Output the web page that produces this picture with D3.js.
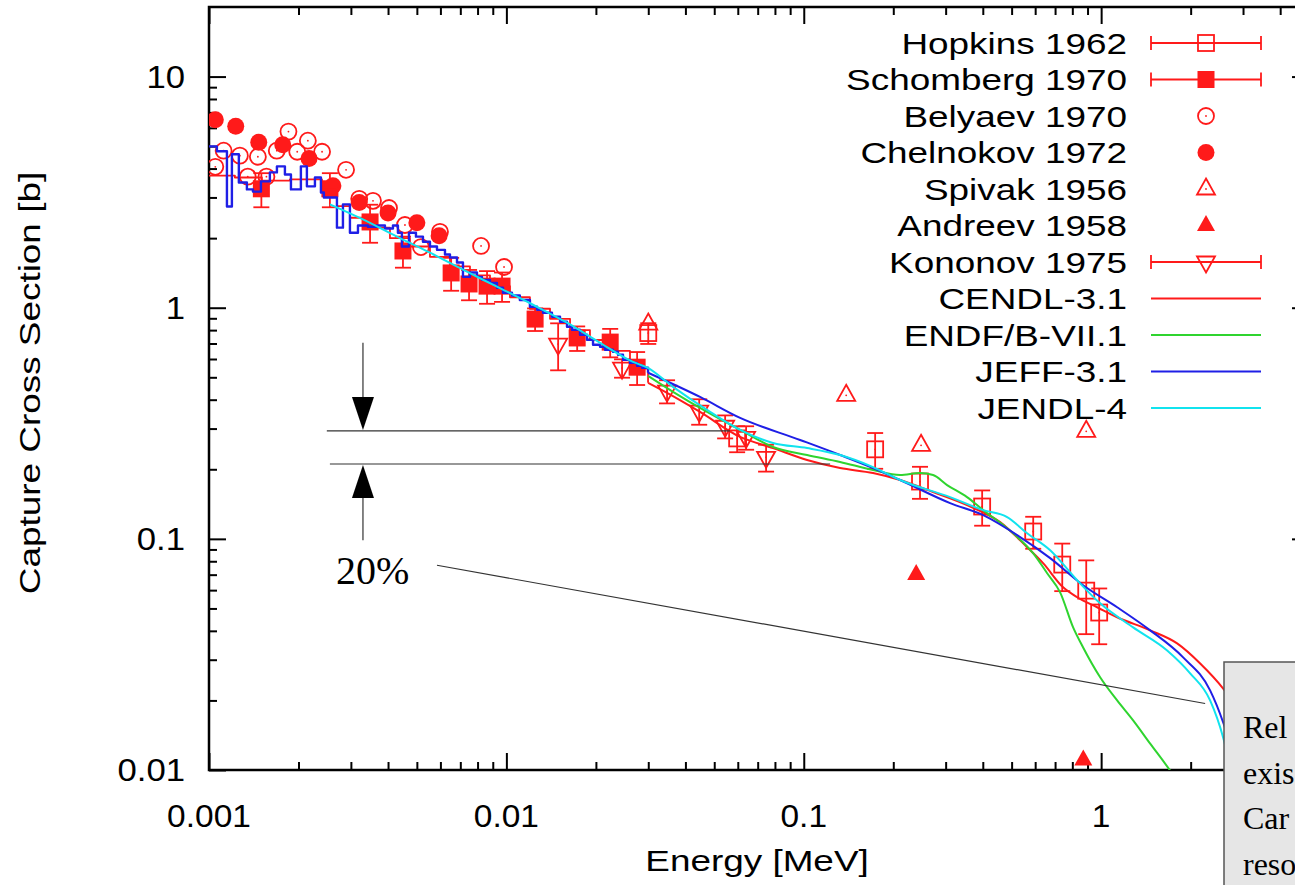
<!DOCTYPE html>
<html>
<head>
<meta charset="utf-8">
<script src="https://cdn.jsdelivr.net/npm/d3@7"></script>
<style>
  body { margin: 0; background: #fff; overflow: hidden; }
  svg { display: block; }
</style>
</head>
<body>
<svg id="chart" width="1295" height="885"></svg>
<script>
// ---- Measurements: energy [MeV], capture cross section [b], error [b] ----
const hopkinsE   = [0.0300, 0.0597, 0.1738, 0.246, 0.398, 0.591, 0.740, 0.891, 0.985];
const hopkinsS   = [0.777, 0.272, 0.244, 0.177, 0.138, 0.1076, 0.0774, 0.0597, 0.048];
const hopkinsErr = [0.08, 0.035, 0.043, 0.028, 0.024, 0.017, 0.018, 0.021, 0.013];

const schombergE   = [0.00150, 0.00255, 0.00348, 0.00449, 0.00652, 0.00749, 0.00861, 0.00967, 0.01249, 0.0173, 0.02234, 0.02752];
const schombergS   = [3.27, 3.27, 2.35, 1.76, 1.414, 1.267, 1.24, 1.24, 0.893, 0.74, 0.71, 0.553];
const schombergErr = [0.55, 0.55, 0.44, 0.27, 0.23, 0.19, 0.20, 0.18, 0.10, 0.09, 0.10, 0.09];

const belyaevE = [0.00105, 0.00112, 0.00127, 0.00146, 0.00135, 0.00156, 0.00169, 0.00185, 0.00198, 0.00215,
                  0.0024, 0.00289, 0.0032, 0.00356, 0.00403, 0.00456, 0.00516, 0.00598, 0.00822, 0.00982];
const belyaevS = [4.07, 4.78, 4.55, 4.5, 3.69, 3.69, 4.78, 5.78, 4.73, 5.28,
                  4.73, 3.95, 2.96, 2.90, 2.70, 2.28, 1.83, 2.13, 1.85, 1.50];

const chelnokovE = [0.00105, 0.00123, 0.00147, 0.00177, 0.00217, 0.00261, 0.0032, 0.0040, 0.0050, 0.00594];
const chelnokovS = [6.5, 6.1, 5.2, 5.07, 4.42, 3.37, 2.85, 2.57, 2.33, 2.05];

const spivakE = [0.0300, 0.1389, 0.248, 0.891];
const spivakS = [0.85, 0.418, 0.254, 0.292];

const andreevE = [0.2388, 0.871];
const andreevS = [0.0701, 0.01106];

const kononovE   = [0.01493, 0.02449, 0.0347, 0.0445, 0.0544, 0.064, 0.0747];
const kononovS   = [0.696, 0.548, 0.4355, 0.3567, 0.307, 0.275, 0.2254];
const kononovErr = [0.16, 0.05, 0.05, 0.045, 0.035, 0.032, 0.03];

// ---- Evaluations ----
// CENDL-3.1: group-wise part, then pointwise part
const cendlStepE = [0.001, 0.001222, 0.001506, 0.001871, 0.002398, 0.002693, 0.002978, 0.003423, 0.00406, 0.004739,
                    0.005534, 0.006461, 0.007543, 0.008809, 0.01028, 0.012, 0.01402, 0.01637, 0.0191, 0.02231,
                    0.02604, 0.02814, 0.02995];
const cendlStepS = [3.73, 3.66, 3.55, 3.59, 3.30, 2.75, 2.45, 2.22, 2.00, 1.84,
                    1.66, 1.51, 1.38, 1.24, 1.11, 0.99, 0.895, 0.80, 0.725, 0.65,
                    0.575, 0.545, 0.473];
const cendlE = [0.02995, 0.0347, 0.04479, 0.0611, 0.0788, 0.1026, 0.1325, 0.171, 0.2109, 0.2722, 0.354,
                0.4574, 0.5638, 0.6379, 0.7451, 0.8306, 0.9694, 1.132, 1.462, 1.801, 2.153, 2.573, 3.05];
const cendlS = [0.473, 0.428, 0.354, 0.276, 0.247, 0.2194, 0.2025, 0.1927, 0.1797, 0.1594, 0.14,
                0.1181, 0.092, 0.0785, 0.0617, 0.0559, 0.0506, 0.0458, 0.0402, 0.0353, 0.0289, 0.0225, 0.0164];

// ENDF/B-VII.1
const endfE = [0.02995, 0.03634, 0.0473, 0.0611, 0.0788, 0.1026, 0.1325, 0.171, 0.2109, 0.2461, 0.2722, 0.3034,
               0.354, 0.4011, 0.4829, 0.5904, 0.6584, 0.728, 0.805, 0.8698, 0.9923, 1.132, 1.281, 1.462, 1.706, 1.844];
const endfS = [0.507, 0.4325, 0.354, 0.296, 0.2497, 0.2306, 0.215, 0.1986, 0.1888, 0.1927, 0.1888, 0.1709,
               0.1516, 0.1331, 0.1112, 0.0867, 0.071, 0.0587, 0.0414, 0.0339, 0.0252, 0.020, 0.0164, 0.013, 0.00994, 0.00856];

// JEFF-3.1: group-wise part, then pointwise part
const jeffStepE = [0.001, 0.001063, 0.001149, 0.001194, 0.00126, 0.001341, 0.001405, 0.001495, 0.001602, 0.001692,
                   0.0018, 0.001886, 0.002037, 0.002134, 0.002271, 0.002379, 0.002434, 0.002693, 0.002821, 0.002978,
                   0.003169, 0.003423, 0.003671, 0.003905, 0.004155, 0.004318, 0.004453, 0.004703, 0.004965, 0.005242,
                   0.005534, 0.005843, 0.006216, 0.006461, 0.006822, 0.007145, 0.007543, 0.007963, 0.008277, 0.008809,
                   0.009299, 0.009741, 0.01044, 0.0111, 0.012, 0.01268, 0.01328, 0.01423, 0.01515, 0.01599,
                   0.01662, 0.01768, 0.01867, 0.01956, 0.02065, 0.02146, 0.02283, 0.02373, 0.02467, 0.02604,
                   0.02749, 0.02858, 0.02995];
const jeffStepS = [4.99, 4.75, 2.74, 4.61, 3.48, 3.25, 3.18, 3.52, 3.85, 4.09,
                   3.77, 3.25, 4.09, 3.35, 3.66, 3.15, 3.00, 2.22, 2.80, 2.11,
                   2.27, 2.24, 2.27, 2.20, 2.27, 2.11, 1.84, 2.11, 2.03, 1.93,
                   1.84, 1.78, 1.70, 1.65, 1.57, 1.36, 1.42, 1.36, 1.32, 1.28,
                   1.22, 1.16, 1.13, 1.08, 1.01, 0.98, 0.951, 0.914, 0.870, 0.827,
                   0.803, 0.764, 0.727, 0.691, 0.678, 0.658, 0.645, 0.626, 0.595, 0.577,
                   0.561, 0.550, 0.523];
const jeffE = [0.02995, 0.04479, 0.0611, 0.0972, 0.1325, 0.171, 0.2109, 0.3105, 0.4011, 0.5218, 0.6739, 0.8698,
               1.132, 1.462, 1.887, 2.325, 2.573, 2.935];
const jeffS = [0.523, 0.411, 0.3336, 0.2679, 0.2306, 0.2025, 0.1797, 0.1428, 0.1266, 0.1038, 0.0825, 0.063,
               0.0506, 0.0402, 0.0307, 0.0221, 0.01605, 0.009];

// JENDL-4
const jendlE = [0.00255, 0.003294, 0.004285, 0.005534, 0.007145, 0.009299, 0.01229, 0.01599, 0.02065, 0.02666, 0.0298,
                0.03634, 0.0473, 0.0611, 0.0788, 0.1026, 0.1325, 0.171, 0.2109, 0.3105, 0.4011, 0.4829, 0.5638,
                0.6739, 0.8306, 0.9923, 1.281, 1.667, 1.992, 2.325, 2.573, 2.823];
const jendlS = [2.80, 2.41, 2.03, 1.73, 1.46, 1.233, 1.03, 0.861, 0.705, 0.583, 0.55,
                0.4545, 0.3613, 0.296, 0.26, 0.247, 0.2306, 0.2045, 0.1797, 0.1516, 0.1331, 0.1242, 0.1058,
                0.0893, 0.0662, 0.0526, 0.0414, 0.0329, 0.0262, 0.020, 0.0138, 0.00814];

// ---- Axis ticks and labels ----
const xMajor = [0.001, 0.01, 0.1, 1];
const xTickLabels = ["0.001", "0.01", "0.1", "1"];
const yMajor = [0.01, 0.1, 1, 10];
const yTickLabels = ["0.01", "0.1", "1", "10"];

const legendLabels = ["Hopkins 1962", "Schomberg 1970", "Belyaev 1970", "Chelnokov 1972", "Spivak 1956",
                      "Andreev 1958", "Kononov 1975", "CENDL-3.1", "ENDF/B-VII.1", "JEFF-3.1", "JENDL-4"];

// ---- Annotation (20% band) ----
const bandUpper = 0.293, bandLower = 0.2108;
const bandUpperE = [0.00249, 0.0565];
const bandLowerE = [0.00255, 0.1226];
const arrowE = 0.003294;
const arrowTopS = 0.705, arrowBottomS = 0.0987;
const leaderE = [0.005843, 2.237];
const leaderS = [0.0769, 0.0194];
// visible beginnings of the note lines at the right edge
const noteLines = ["Rel", "exis", "Car", "reso"];

// ================= drawing =================
const svg = d3.select("#chart");
const RED = "#ff1a1a", GREEN = "#2fd42f", BLUE = "#1f1fe6", CYAN = "#11e3ee";
const SANS = "'Liberation Sans', Arial, Helvetica, sans-serif";
const SERIF = "'Liberation Serif', 'Times New Roman', serif";

const x = d3.scaleLog().domain([0.001, 5]).range([209, 1309]);
const y = d3.scaleLog().domain([0.01, 20]).range([770, 7]);
const [X0, X1] = x.range();
const [Y0, Y1] = y.range();

// minor ticks 2..9 within each decade
function minorTicks(majors) {
  const out = [];
  majors.forEach(m => { for (let k = 2; k <= 9; k++) out.push(m * k); });
  return out;
}
const xMinor = minorTicks(xMajor).filter(v => v < 5);
const yMinor = minorTicks(yMajor).filter(v => v < 20);

function stext(g, str, tx, ty, opt) {
  const o = Object.assign({size: 30, sx: 1.23, anchor: "start", family: SANS, rotate: 0, fill: "#000"}, opt || {});
  return g.append("text")
    .attr("transform", `translate(${tx},${ty}) rotate(${o.rotate}) scale(${o.sx},1)`)
    .attr("text-anchor", o.anchor)
    .style("font-family", o.family)
    .style("font-size", o.size + "px")
    .attr("fill", o.fill)
    .text(str);
}

// axes (ticks inward, mirrored)
const axesG = svg.append("g");
function tickAxis(axisFn, scale, vals, len, tr) {
  const g = axesG.append("g").attr("transform", tr)
    .call(axisFn(scale).tickValues(vals).tickSize(-len).tickSizeOuter(0).tickFormat(""));
  g.select(".domain").remove();
  g.selectAll(".tick line").attr("stroke", "#000").attr("stroke-width", 2);
}
tickAxis(d3.axisBottom, x, xMajor, 17, `translate(0,${Y0})`);
tickAxis(d3.axisBottom, x, xMinor, 8, `translate(0,${Y0})`);
tickAxis(d3.axisTop, x, xMajor, 17, `translate(0,${Y1})`);
tickAxis(d3.axisTop, x, xMinor, 8, `translate(0,${Y1})`);
tickAxis(d3.axisLeft, y, yMajor, 17, `translate(${X0},0)`);
tickAxis(d3.axisLeft, y, yMinor, 8, `translate(${X0},0)`);
tickAxis(d3.axisRight, y, yMajor, 17, `translate(${X1},0)`);
tickAxis(d3.axisRight, y, yMinor, 8, `translate(${X1},0)`);

axesG.append("rect").attr("x", X0).attr("y", Y1).attr("width", X1 - X0).attr("height", Y0 - Y1)
  .attr("fill", "none").attr("stroke", "#000").attr("stroke-width", 2.5);

xMajor.forEach((v, i) => stext(axesG, xTickLabels[i], x(v), 827, {size: 31, sx: 1.08, anchor: "middle"}));
yMajor.forEach((v, i) => stext(axesG, yTickLabels[i], 185, y(v) + 11, {size: 31, sx: 1.12, anchor: "end"}));
stext(axesG, "Energy [MeV]", 757, 871, {size: 30, anchor: "middle"});
stext(axesG, "Capture Cross Section [b]", 40, 383, {size: 30, anchor: "middle", rotate: -90});

// plot area clip
svg.append("clipPath").attr("id", "plotclip").append("rect")
  .attr("x", X0).attr("y", Y1).attr("width", X1 - X0).attr("height", Y0 - Y1);
const plot = svg.append("g").attr("clip-path", "url(#plotclip)");

// marker shapes
const triUp = "M0,-10.5L9,5.5L-9,5.5Z";
const triDown = "M0,10.5L9,-5.5L-9,-5.5Z";
function marker(g, type, cx, cy) {
  const m = g.append("g").attr("transform", `translate(${cx},${cy})`);
  const open = {fill: "none", stroke: RED, "stroke-width": 1.8};
  const solid = {fill: RED, stroke: "none"};
  const apply = (sel, o) => { Object.entries(o).forEach(([k, v]) => sel.attr(k, v)); return sel; };
  if (type === "sqOpen") apply(m.append("rect").attr("x", -8).attr("y", -8).attr("width", 16).attr("height", 16), open);
  if (type === "sqFill") apply(m.append("rect").attr("x", -8.5).attr("y", -8.5).attr("width", 17).attr("height", 17), solid);
  if (type === "circOpen") apply(m.append("circle").attr("r", 8), open);
  if (type === "circFill") apply(m.append("circle").attr("r", 8.5), solid);
  if (type === "triOpen") apply(m.append("path").attr("d", triUp), open);
  if (type === "triFill") apply(m.append("path").attr("d", triUp), solid);
  if (type === "triDownOpen") apply(m.append("path").attr("d", triDown), open);
  if (type.endsWith("Open")) m.append("circle").attr("r", 0.9).attr("fill", RED);
}
function errBarV(g, cx, ylo, yhi) {
  g.append("line").attr("x1", cx).attr("x2", cx).attr("y1", ylo).attr("y2", yhi).attr("stroke", RED).attr("stroke-width", 1.8);
  [ylo, yhi].forEach(yy => g.append("line").attr("x1", cx - 8).attr("x2", cx + 8).attr("y1", yy).attr("y2", yy)
    .attr("stroke", RED).attr("stroke-width", 1.8));
}
function pointSeries(E, S, Err, type) {
  const g = plot.append("g");
  E.forEach((e, i) => {
    if (Err) errBarV(g, x(e), y(S[i] - Err[i]), y(S[i] + Err[i]));
    marker(g, type, x(e), y(S[i]));
  });
}
pointSeries(hopkinsE, hopkinsS, hopkinsErr, "sqOpen");
pointSeries(schombergE, schombergS, schombergErr, "sqFill");
pointSeries(belyaevE, belyaevS, null, "circOpen");
pointSeries(chelnokovE, chelnokovS, null, "circFill");
pointSeries(spivakE, spivakS, null, "triOpen");
pointSeries(andreevE, andreevS, null, "triFill");
pointSeries(kononovE, kononovS, kononovErr, "triDownOpen");

// evaluated curves
const zip = (E, S) => E.map((e, i) => [e, S[i]]);
const stepLine = d3.line().x(d => x(d[0])).y(d => y(d[1])).curve(d3.curveStepAfter);
const smoothLine = d3.line().x(d => x(d[0])).y(d => y(d[1])).curve(d3.curveMonotoneX);
function curve(data, gen, color, w) {
  plot.append("path").attr("d", gen(data)).attr("fill", "none").attr("stroke", color)
    .attr("stroke-width", w).attr("stroke-linejoin", "round");
}
curve(zip(cendlStepE, cendlStepS), stepLine, RED, 1.8);
curve(zip(cendlE, cendlS), smoothLine, RED, 2);
curve(zip(endfE, endfS), smoothLine, GREEN, 2);
curve(zip(jeffStepE, jeffStepS), stepLine, BLUE, 2.4);
curve(zip(jeffE, jeffS), smoothLine, BLUE, 2);
curve(zip(jendlE, jendlS), smoothLine, CYAN, 2);

// legend
const leg = svg.append("g");
const legY0 = 43, legDY = 36.5, legTextX = 1127, sx0 = 1151, sx1 = 1261, smid = 1206;
const legTypes = ["sqOpen", "sqFill", "circOpen", "circFill", "triOpen", "triFill", "triDownOpen"];
const legErr = [true, true, false, false, false, false, true];
const legLineColors = [RED, GREEN, BLUE, CYAN];
legendLabels.forEach((lab, i) => {
  const cy = legY0 + i * legDY;
  stext(leg, lab, legTextX, cy + 10.5, {size: 30, anchor: "end"});
  if (i < legTypes.length) {
    if (legErr[i]) {
      leg.append("line").attr("x1", sx0).attr("x2", sx1).attr("y1", cy).attr("y2", cy).attr("stroke", RED).attr("stroke-width", 1.8);
      [sx0, sx1].forEach(xx => leg.append("line").attr("x1", xx).attr("x2", xx).attr("y1", cy - 7).attr("y2", cy + 7)
        .attr("stroke", RED).attr("stroke-width", 1.8));
    }
    marker(leg, legTypes[i], smid, cy);
  } else {
    leg.append("line").attr("x1", sx0).attr("x2", sx1).attr("y1", cy).attr("y2", cy)
      .attr("stroke", legLineColors[i - legTypes.length]).attr("stroke-width", 2);
  }
});

// 20% band annotation
const ann = svg.append("g").attr("stroke", "#333").attr("stroke-width", 1.2);
ann.append("line").attr("x1", x(bandUpperE[0])).attr("x2", x(bandUpperE[1])).attr("y1", y(bandUpper)).attr("y2", y(bandUpper));
ann.append("line").attr("x1", x(bandLowerE[0])).attr("x2", x(bandLowerE[1])).attr("y1", y(bandLower)).attr("y2", y(bandLower));
const ax = x(arrowE);
ann.append("line").attr("x1", ax).attr("x2", ax).attr("y1", y(arrowTopS)).attr("y2", y(bandUpper) - 30);
ann.append("line").attr("x1", ax).attr("x2", ax).attr("y1", y(arrowBottomS)).attr("y2", y(bandLower) + 30);
svg.append("path").attr("fill", "#000")
  .attr("d", `M${ax},${y(bandUpper) - 1}L${ax - 11},${y(bandUpper) - 34}L${ax + 11},${y(bandUpper) - 34}Z`);
svg.append("path").attr("fill", "#000")
  .attr("d", `M${ax},${y(bandLower) + 1}L${ax - 11},${y(bandLower) + 34}L${ax + 11},${y(bandLower) + 34}Z`);
stext(svg, "20%", 336, 584, {size: 40, sx: 1, family: SERIF});
ann.append("line").attr("x1", x(leaderE[0])).attr("y1", y(leaderS[0])).attr("x2", x(leaderE[1])).attr("y2", y(leaderS[1]));

// note box
const note = svg.append("g");
note.append("rect").attr("x", 1224).attr("y", 662).attr("width", 120).attr("height", 260)
  .attr("fill", "#e6e6e6").attr("stroke", "#555").attr("stroke-width", 1.5);
noteLines.forEach((t, i) => stext(note, t, 1243, 738 + i * 45.5, {size: 32, sx: 1, family: SERIF}));
</script>
</body>
</html>
